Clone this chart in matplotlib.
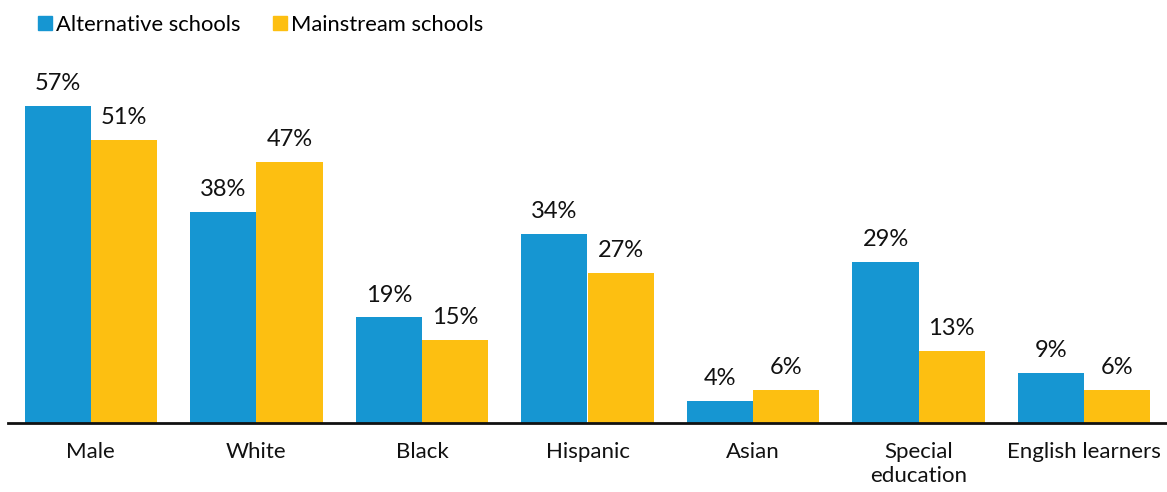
import matplotlib.pyplot as plt
from matplotlib.lines import Line2D
import numpy as np

plt.rcParams['font.family'] = ['Lato', 'DejaVu Sans']

categories = ["Male", "White", "Black", "Hispanic", "Asian", "Special\neducation", "English learners"]
alternative = [57, 38, 19, 34, 4, 29, 9]
mainstream = [51, 47, 15, 27, 6, 13, 6]

blue = "#1696d2"
yellow = "#fdbf11"

fig = plt.figure(figsize=(11.67, 4.92), dpi=100)
ax = fig.add_axes([8 / 1167, 69 / 492, 1 - 8 / 1167, 361 / 492])

x = np.arange(len(categories))
w = 0.4
b1 = ax.bar(x - w / 2, alternative, w, color=blue)
b2 = ax.bar(x + w / 2, mainstream, w, color=yellow)

# value labels above the bars
for bars, vals in ((b1, alternative), (b2, mainstream)):
    for rect, v in zip(bars, vals):
        ax.annotate(f"{v}%", (rect.get_x() + rect.get_width() / 2, v),
                    xytext=(0, 11.5), textcoords="offset points",
                    ha="center", va="baseline", fontsize=17, color="#111111")

ax.set_xlim(-0.5, 6.5)
ax.set_ylim(0, 65)
ax.set_xticks(x)
ax.set_xticklabels(categories, fontsize=16, color="#111111", linespacing=1.2)
ax.tick_params(axis="x", length=0, pad=14)
ax.set_yticks([])
for s in ("top", "right", "left"):
    ax.spines[s].set_visible(False)
ax.spines["bottom"].set_linewidth(2)
ax.spines["bottom"].set_color("#111111")

handles = [Line2D([], [], marker="s", linestyle="", markersize=10, color=blue),
           Line2D([], [], marker="s", linestyle="", markersize=10, color=yellow)]
fig.legend(handles, ["Alternative schools", "Mainstream schools"],
           loc="center left", bbox_to_anchor=(29 / 1167, 1 - 25 / 492),
           ncol=2, frameon=False, fontsize=15.8, handlelength=0.7,
           handletextpad=0.15, columnspacing=1.45, borderaxespad=0)

fig.savefig("out.png", dpi=100)
